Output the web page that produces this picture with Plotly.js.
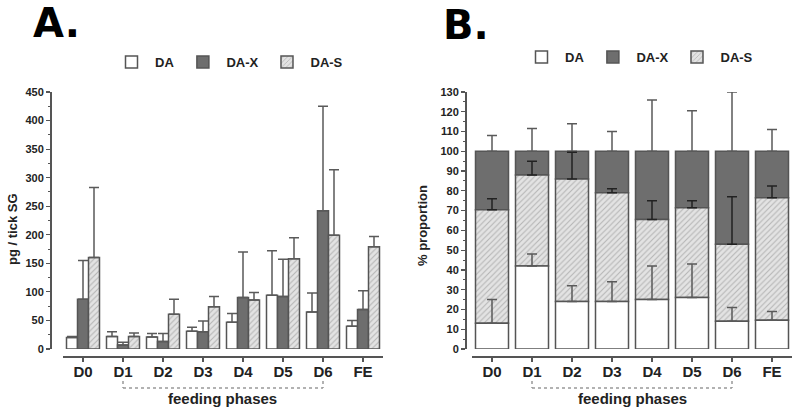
<!DOCTYPE html>
<html>
<head>
<meta charset="utf-8">
<script src="https://cdn.plot.ly/plotly-3.0.1.min.js"></script>
<style>
  html, body { margin: 0; padding: 0; background: #fff; }
  #chart { width: 800px; height: 415px; }
</style>
</head>
<body>
<div id="chart"></div>
<script>
// Feeding phases
const phases = ['D0', 'D1', 'D2', 'D3', 'D4', 'D5', 'D6', 'FE'];
const bracketPhases = ['D1', 'D6'];

// Panel A: pg / tick SG (mean and upper error)
const daA = [20, 22, 21, 31, 47, 94, 65, 40];
const daAErr = [2, 8, 6, 7, 15, 78, 33, 10];
const daxA = [87, 7, 13, 30, 90, 92, 242, 69];
const daxAErr = [68, 5, 14, 19, 80, 65, 183, 33];
const dasA = [160, 22, 61, 74, 86, 158, 199, 179];
const dasAErr = [123, 6, 26, 18, 13, 37, 115, 18];

// Panel B: % proportion (stacked DA, DA-S, DA-X)
const daB = [13, 42, 24, 24, 25, 26, 14, 14.5];
const daBErr = [12, 6, 8, 10, 17, 17, 7, 4.5];
const dasB = [57.5, 46, 62, 55, 40.5, 45.5, 39, 62];
const dasBErr = [5.5, 7, 13.5, 2, 9.5, 3.5, 24, 6];
const daxB = [29.5, 12, 14, 21, 34.5, 28.5, 47, 23.5];
const daxBErr = [8, 11.5, 14, 10, 26, 20.5, 30, 11];

const FONT = 'Liberation Sans, Arial, sans-serif';
const EDGE = '#555';
const zeros = phases.map(() => 0);

function errUp(arr, color) {
    return {
        type: 'data', symmetric: false, array: arr, arrayminus: zeros,
        color: color || '#5a5a5a', thickness: 1.5, width: 5
    };
}

const styles = {
    DA: { color: '#ffffff', line: { color: EDGE, width: 1.5 } },
    DAX: { color: '#6e6e6e', line: { color: EDGE, width: 1.5 } },
    DAS: {
        color: '#e3e3e3', line: { color: EDGE, width: 1.5 },
        pattern: { shape: '/', bgcolor: '#e3e3e3', fgcolor: '#b4b4b4', size: 4, solidity: 0.25 }
    }
};

// stacked tops for panel B
const baseX = daB.map((v, i) => v + dasB[i]);

const traces = [
    { type: 'bar', name: 'DA', x: phases, y: daA, marker: styles.DA, error_y: errUp(daAErr),
      xaxis: 'x', yaxis: 'y', legend: 'legend' },
    { type: 'bar', name: 'DA-X', x: phases, y: daxA, marker: styles.DAX, error_y: errUp(daxAErr),
      xaxis: 'x', yaxis: 'y', legend: 'legend' },
    { type: 'bar', name: 'DA-S', x: phases, y: dasA, marker: styles.DAS, error_y: errUp(dasAErr),
      xaxis: 'x', yaxis: 'y', legend: 'legend' },

    // panel B drawn top segment first so lower error bars stay visible
    { type: 'bar', name: 'DA-X', x: phases, y: daxB, base: baseX, marker: styles.DAX,
      error_y: errUp(daxBErr), offsetgroup: 'b', xaxis: 'x2', yaxis: 'y2',
      legend: 'legend2', legendrank: 2 },
    { type: 'bar', name: 'DA-S', x: phases, y: dasB, base: daB, marker: styles.DAS,
      error_y: errUp(dasBErr, '#222'), offsetgroup: 'b', xaxis: 'x2', yaxis: 'y2',
      legend: 'legend2', legendrank: 3 },
    { type: 'bar', name: 'DA', x: phases, y: daB, marker: styles.DA,
      error_y: errUp(daBErr), offsetgroup: 'b', xaxis: 'x2', yaxis: 'y2',
      legend: 'legend2', legendrank: 1 }
];

const H = 415, W = 800;
const py = px => (H - px) / H;
const pxX = px => px / W;

const xCommon = {
    type: 'category', range: [-0.5, 7.5], anchor: 'free', position: py(356),
    showline: true, linecolor: EDGE, linewidth: 1.5,
    ticks: 'outside', ticklen: 4, tickwidth: 1.2, tickcolor: EDGE,
    ticklabelstandoff: -3,
    tickfont: { family: FONT, size: 15, weight: 'bold', color: '#222' },
    showgrid: false, zeroline: false, fixedrange: true
};
const yCommon = {
    domain: [py(349), py(92)], anchor: 'free',
    showline: true, linecolor: EDGE, linewidth: 1.5,
    ticks: 'outside', ticklen: 4, tickwidth: 1.2, tickcolor: EDGE,
    minor: { ticks: 'outside', ticklen: 2, tickcolor: EDGE, tickwidth: 1, showgrid: false },
    tickfont: { family: FONT, size: 11, weight: 'bold', color: '#222' },
    showgrid: false, zeroline: false, fixedrange: true
};

const legendCommon = {
    orientation: 'h', yanchor: 'middle', xanchor: 'left',
    font: { family: FONT, size: 13, weight: 'bold', color: '#222' },
    bgcolor: 'rgba(0,0,0,0)', itemwidth: 37, traceorder: 'normal'
};

function bracket(xref) {
    const i0 = phases.indexOf(bracketPhases[0]);
    const i1 = phases.indexOf(bracketPhases[1]);
    const ln = { color: '#999', width: 1.5, dash: 'dot' };
    return [
        { type: 'line', xref: xref, yref: 'paper', x0: i0, x1: i0, y0: py(381), y1: py(388), line: ln },
        { type: 'line', xref: xref, yref: 'paper', x0: i1, x1: i1, y0: py(381), y1: py(388), line: ln },
        { type: 'line', xref: xref, yref: 'paper', x0: i0, x1: i1, y0: py(388), y1: py(388), line: ln }
    ];
}

function label(text, x, y, size, angle, family, color) {
    return {
        text: text, x: pxX(x), y: py(y), xref: 'paper', yref: 'paper',
        xanchor: 'center', yanchor: 'middle', textangle: angle || 0, showarrow: false,
        font: { family: family || FONT, size: size, weight: 'bold', color: color || '#222' }
    };
}

const layout = {
    width: W, height: H,
    margin: { l: 0, r: 0, t: 0, b: 0 },
    paper_bgcolor: '#fff', plot_bgcolor: '#fff',
    barmode: 'group', bargap: 0.175, bargroupgap: 0,
    showlegend: true,
    xaxis: Object.assign({}, xCommon, { domain: [pxX(63), pxX(383)] }),
    yaxis: Object.assign({}, yCommon, { position: pxX(50), range: [0, 450], dtick: 50,
        minor: Object.assign({}, yCommon.minor, { dtick: 25 }) }),
    xaxis2: Object.assign({}, xCommon, { domain: [pxX(472), pxX(792)] }),
    yaxis2: Object.assign({}, yCommon, { position: pxX(465), range: [0, 130], dtick: 10,
        minor: Object.assign({}, yCommon.minor, { dtick: 5 }) }),
    legend: Object.assign({}, legendCommon, { x: pxX(108), y: py(62) }),
    legend2: Object.assign({}, legendCommon, { x: pxX(518), y: py(57) }),
    shapes: bracket('x').concat(bracket('x2')),
    annotations: [
        label('A.', 57, 23, 40, 0, 'DejaVu Sans', '#000'),
        label('B.', 466, 25, 40, 0, 'DejaVu Sans', '#000'),
        label('pg / tick SG', 13, 229, 13, -90),
        label('% proportion', 423, 226, 13, -90),
        label('feeding phases', 222, 398, 15),
        label('feeding phases', 632, 398, 15)
    ]
};

Plotly.newPlot('chart', traces, layout, { displayModeBar: false, staticPlot: true });
</script>
</body>
</html>
